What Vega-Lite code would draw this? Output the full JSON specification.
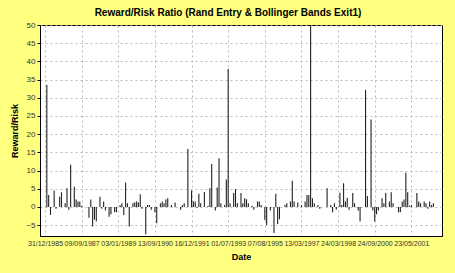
{
  "$schema": "https://vega.github.io/schema/vega-lite/v6.json",
  "width": 402,
  "height": 211,
  "autosize": "none",
  "padding": {"left": 40, "top": 25, "right": 13, "bottom": 37},
  "background": "#FFFF80",
  "title": {"text": "Reward/Risk Ratio (Rand Entry & Bollinger Bands Exit1)", "font": "Liberation Sans", "fontSize": 10, "fontWeight": "bold", "color": "#000000", "anchor": "middle", "offset": 3, "dx": -13},
  "config": {
    "view": {"fill": "#FFFFFF", "stroke": "#000000", "strokeWidth": 1},
    "axis": {"labelFont": "Liberation Sans", "titleFont": "Liberation Sans", "labelColor": "#333333", "titleColor": "#000000", "domainColor": "#000000", "tickColor": "#000000", "gridColor": "#aaaaaa", "gridDash": [2, 3], "gridWidth": 0.8}
  },
  "data": {"values": [
    {"t": 1, "rr": 33.6}, {"t": 2, "rr": 3.3}, {"t": 3, "rr": -2.2}, {"t": 5, "rr": 4.5}, {"t": 6, "rr": -0.5},
    {"t": 8, "rr": 2.8}, {"t": 9, "rr": 4.0}, {"t": 11, "rr": 1.0}, {"t": 12, "rr": 5.1}, {"t": 13, "rr": -0.8},
    {"t": 14, "rr": 11.6}, {"t": 16, "rr": 5.6}, {"t": 17, "rr": 2.0}, {"t": 18, "rr": 1.5}, {"t": 19, "rr": 1.5},
    {"t": 20, "rr": 0.3}, {"t": 24, "rr": -3.0}, {"t": 25, "rr": 2.0}, {"t": 26, "rr": -5.4}, {"t": 27, "rr": -3.5},
    {"t": 28, "rr": -4.0}, {"t": 30, "rr": 2.8}, {"t": 31, "rr": -0.5}, {"t": 32, "rr": 1.5}, {"t": 33, "rr": -1.0},
    {"t": 35, "rr": -2.7}, {"t": 36, "rr": -2.0}, {"t": 38, "rr": -1.5}, {"t": 39, "rr": -1.5}, {"t": 41, "rr": 0.5},
    {"t": 42, "rr": 1.0}, {"t": 43, "rr": -2.2}, {"t": 44, "rr": 6.7}, {"t": 45, "rr": 1.0}, {"t": 46, "rr": -5.4},
    {"t": 48, "rr": 1.0}, {"t": 49, "rr": 1.3}, {"t": 50, "rr": 1.5}, {"t": 51, "rr": 1.2}, {"t": 52, "rr": 3.5},
    {"t": 53, "rr": -0.5}, {"t": 55, "rr": -7.5}, {"t": 56, "rr": 0.5}, {"t": 57, "rr": 0.5}, {"t": 58, "rr": -0.8},
    {"t": 60, "rr": -1.5}, {"t": 61, "rr": -4.5}, {"t": 63, "rr": 1.0}, {"t": 64, "rr": 1.5}, {"t": 65, "rr": 1.0},
    {"t": 66, "rr": 2.0}, {"t": 67, "rr": 2.4}, {"t": 69, "rr": 0.5}, {"t": 71, "rr": 1.2}, {"t": 74, "rr": -0.8},
    {"t": 75, "rr": 0.5}, {"t": 76, "rr": 1.0}, {"t": 78, "rr": 15.9}, {"t": 80, "rr": 4.5}, {"t": 81, "rr": 1.5},
    {"t": 82, "rr": 1.5}, {"t": 83, "rr": -0.3}, {"t": 84, "rr": 3.6}, {"t": 85, "rr": 1.0}, {"t": 87, "rr": 4.1},
    {"t": 89, "rr": 0.3}, {"t": 90, "rr": 5.1}, {"t": 91, "rr": 11.8}, {"t": 93, "rr": -1.0}, {"t": 94, "rr": 5.3},
    {"t": 95, "rr": 13.4}, {"t": 96, "rr": 1.0}, {"t": 98, "rr": 0.5}, {"t": 99, "rr": 7.5}, {"t": 100, "rr": 37.9},
    {"t": 101, "rr": 1.0}, {"t": 103, "rr": 3.8}, {"t": 104, "rr": 4.9}, {"t": 105, "rr": 1.0}, {"t": 107, "rr": 3.8},
    {"t": 108, "rr": 1.0}, {"t": 109, "rr": 2.4}, {"t": 110, "rr": 2.1}, {"t": 111, "rr": 1.0}, {"t": 113, "rr": 0.3},
    {"t": 114, "rr": -0.8}, {"t": 116, "rr": 1.5}, {"t": 117, "rr": 1.5}, {"t": 118, "rr": 0.5}, {"t": 120, "rr": -3.6},
    {"t": 121, "rr": -5.0}, {"t": 123, "rr": -1.0}, {"t": 125, "rr": -7.2}, {"t": 126, "rr": 3.6}, {"t": 127, "rr": -4.7},
    {"t": 128, "rr": -3.4}, {"t": 131, "rr": 0.5}, {"t": 132, "rr": 1.0}, {"t": 134, "rr": 1.5}, {"t": 135, "rr": 7.2},
    {"t": 136, "rr": 1.5}, {"t": 138, "rr": 1.2}, {"t": 140, "rr": 0.5}, {"t": 142, "rr": 1.5}, {"t": 143, "rr": 3.3},
    {"t": 144, "rr": 3.3}, {"t": 145, "rr": 60.0}, {"t": 146, "rr": 2.4}, {"t": 147, "rr": 1.0}, {"t": 149, "rr": 0.5},
    {"t": 150, "rr": -0.5}, {"t": 154, "rr": 5.1}, {"t": 156, "rr": 0.5}, {"t": 157, "rr": -1.5}, {"t": 158, "rr": 1.0},
    {"t": 159, "rr": -0.8}, {"t": 161, "rr": 3.9}, {"t": 162, "rr": 0.5}, {"t": 163, "rr": 6.5}, {"t": 164, "rr": 1.5},
    {"t": 165, "rr": 2.5}, {"t": 166, "rr": -0.8}, {"t": 168, "rr": 3.8}, {"t": 169, "rr": 1.0}, {"t": 171, "rr": -1.0},
    {"t": 172, "rr": -4.0}, {"t": 175, "rr": 32.2}, {"t": 176, "rr": 3.0}, {"t": 178, "rr": 24.0}, {"t": 179, "rr": -1.0},
    {"t": 180, "rr": -4.0}, {"t": 181, "rr": -2.0}, {"t": 182, "rr": -1.0}, {"t": 184, "rr": 2.4}, {"t": 185, "rr": 1.0},
    {"t": 186, "rr": 3.8}, {"t": 188, "rr": 1.5}, {"t": 189, "rr": 4.0}, {"t": 190, "rr": 1.0}, {"t": 193, "rr": -1.5},
    {"t": 194, "rr": -1.5}, {"t": 195, "rr": 1.5}, {"t": 196, "rr": 2.0}, {"t": 197, "rr": 9.4}, {"t": 198, "rr": 4.0},
    {"t": 199, "rr": 0.3}, {"t": 200, "rr": 0.5}, {"t": 203, "rr": 3.8}, {"t": 204, "rr": 1.5}, {"t": 205, "rr": 1.0},
    {"t": 207, "rr": 1.5}, {"t": 208, "rr": 1.0}, {"t": 209, "rr": -0.5}, {"t": 210, "rr": 1.5}, {"t": 211, "rr": 0.5},
    {"t": 212, "rr": 1.0}
  ]},
  "mark": {"type": "bar", "color": "#222222", "size": 1.1, "clip": true},
  "encoding": {
    "x": {
      "field": "t", "type": "quantitative",
      "scale": {"domain": [0, 214], "nice": false, "zero": false},
      "axis": {
        "title": "Date", "titleFontSize": 9, "titleFontWeight": "bold", "titlePadding": 6,
        "values": [0, 20, 40, 60, 80, 100, 120, 140, 160, 180, 200],
        "labelExpr": "['31/12/1985','09/09/1987','03/01/1989','13/09/1990','16/12/1991','01/07/1993','07/08/1995','13/03/1997','24/03/1998','24/09/2000','23/05/2001'][round(datum.value/20)]",
        "labelFontSize": 7, "labelPadding": 3, "tickSize": 0, "labelFlush": false, "labelOverlap": false,
        "grid": true, "domain": true
      }
    },
    "y": {
      "field": "rr", "type": "quantitative",
      "scale": {"domain": [-8, 50], "nice": false, "zero": false},
      "axis": {
        "title": "Reward/Risk", "titleFontSize": 9, "titleFontWeight": "bold", "titlePadding": 6,
        "values": [-5, 0, 5, 10, 15, 20, 25, 30, 35, 40, 45, 50],
        "labelFontSize": 8, "labelPadding": 2, "tickSize": 3, "grid": true, "domain": true
      }
    }
  }
}
